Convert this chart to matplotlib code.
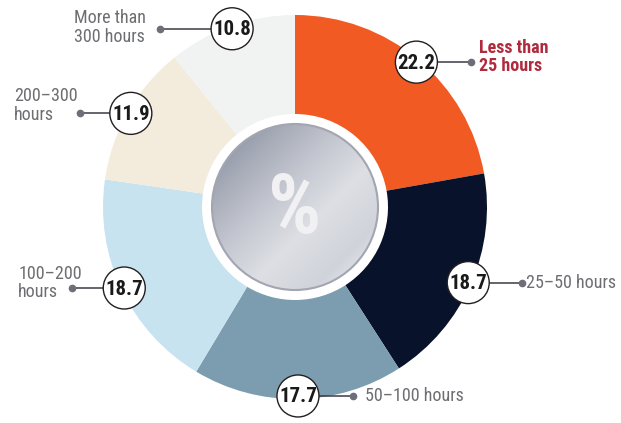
import numpy as np
import matplotlib.pyplot as plt
from matplotlib import font_manager
from matplotlib.patches import Circle
from matplotlib.colors import LinearSegmentedColormap

# pick a narrow sans if one is around
installed = {f.name for f in font_manager.fontManager.ttflist}
narrow = [f for f in ["Liberation Sans Narrow", "Roboto Condensed", "DejaVu Sans Condensed",
                      "Noto Sans Condensed", "Open Sans Condensed", "Roboto"] if f in installed]
plt.rcParams["font.family"] = narrow[:1] + ["DejaVu Sans"]

# share of hours, clockwise from the top
categories = ["Less than\n25 hours", "25–50 hours", "50–100 hours",
              "100–200\nhours", "200–300\nhours", "More than\n300 hours"]
values = [22.2, 18.7, 17.7, 18.7, 11.9, 10.8]
colors = ["#F15A22", "#08132B", "#7B9DAF", "#C6E3EF", "#F3ECDC", "#F1F3F3"]
label_colors = ["#B02A3D", "#6D6E71", "#6D6E71", "#6D6E71", "#6D6E71", "#6D6E71"]
label_weights = ["bold", "normal", "normal", "normal", "normal", "normal"]

# leader length from bubble edge to the dot, and label offset from the dot
leader_len = [34, 33, 34, 31, 30, 51]
label_dx = [8, 4, 12, -54, -66, -14]
label_dy = [5, 0, 0, 5, 8, 1]

W, H = 621, 423
cx, cy = 295, H - 207
R_out, R_in, R_core = 192, 93, 83
R_bub, r_bub = 189, 21

fig = plt.figure(figsize=(W / 100, H / 100), dpi=100)
ax = fig.add_axes([0, 0, 1, 1])

wedges, _ = ax.pie(values, colors=colors, startangle=90, counterclock=False,
                   center=(cx, cy), radius=R_out,
                   wedgeprops=dict(width=R_out - R_in, linewidth=0))

# silver centre disc, dark at top-left fading to light at bottom-right
cmap = LinearSegmentedColormap.from_list(
    "silver", ["#80869A", "#A3A8B5", "#C3C6CF", "#DDDFE4", "#D0D3DA", "#F3F3F5"])
n = 300
gx, gy = np.meshgrid(np.linspace(0, 1, n), np.linspace(0, 1, n))
grad = (gx + gy) / 2
img = ax.imshow(grad, cmap=cmap, extent=(cx - R_core, cx + R_core, cy - R_core, cy + R_core),
                origin="upper", zorder=3, interpolation="bilinear")
img.set_clip_path(Circle((cx, cy), R_core, transform=ax.transData))
ax.add_patch(Circle((cx, cy), R_core, facecolor="none", edgecolor="#A3A6B1",
                    linewidth=1.5, zorder=4))
ax.text(cx, cy - 3, "%", ha="center", va="center", fontsize=60, fontweight="bold",
        color="#F1F1F3", zorder=5)

# value bubbles, leaders and category labels
for w, val, cat, lc, lw, ll, ldx, ldy in zip(wedges, values, categories, label_colors,
                                             label_weights, leader_len, label_dx, label_dy):
    mid = np.deg2rad((w.theta1 + w.theta2) / 2)
    bx = cx + R_bub * np.cos(mid)
    by = cy + R_bub * np.sin(mid)
    side = 1 if np.cos(mid) >= -0.1 else -1
    ax.add_patch(Circle((bx, by), r_bub, facecolor="white", edgecolor="#231F20",
                        linewidth=1.0, zorder=6))
    ax.text(bx, by - 1, f"{val:.1f}", ha="center", va="center", fontsize=15,
            fontweight="bold", color="#1A1A1A", zorder=7)
    x0 = bx + side * r_bub
    x1 = x0 + side * ll
    ax.plot([x0, x1], [by, by], color="#3A3A44", linewidth=1.1, zorder=5)
    ax.plot([x1], [by], "o", color="#6D6E78", markersize=4.5, zorder=6)
    ha = "right" if (side < 0 and ldx > -30) else "left"
    ax.text(x1 + ldx, by + ldy, cat, ha=ha, va="center", fontsize=13, color=lc,
            fontweight=lw, linespacing=1.05, multialignment="left", zorder=6)

ax.set_xlim(0, W)
ax.set_ylim(0, H)
ax.set_aspect("equal")
ax.axis("off")

fig.savefig("out.png", dpi=100)
